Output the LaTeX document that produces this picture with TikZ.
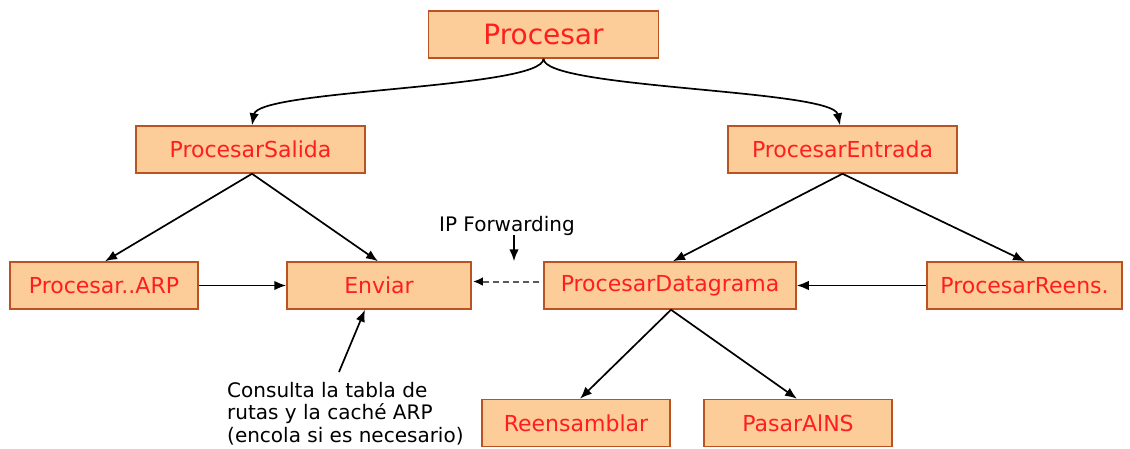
\documentclass[tikz,border=0pt]{standalone}
\usepackage{fontspec}
\setmainfont{DejaVu Sans}
\usetikzlibrary{arrows.meta}
\definecolor{boxfill}{RGB}{252,204,153}
\definecolor{boxdraw}{RGB}{186,82,34}
\definecolor{boxtext}{RGB}{255,30,30}
\definecolor{dashgray}{RGB}{90,90,90}
\tikzset{
  proc/.style={draw=boxdraw, fill=boxfill, line width=1.5pt, text=boxtext,
    inner sep=0pt, font=\fontsize{22}{24}\selectfont, minimum height=47pt},
  conn/.style={line width=1.7pt, -{Latex[length=12pt,width=9.5pt]}},
  note/.style={inner sep=0pt, text=black, font=\fontsize{20}{22.5}\selectfont}
}
\begin{document}
\begin{tikzpicture}[x=1pt,y=-1pt]
\useasboundingbox[fill=white] (0,0) rectangle (1130,448);
\node[proc, minimum width=230pt, minimum height=47pt, font=\fontsize{28}{30}\selectfont] (P) at (543.5,34.5) {Procesar};
\node[proc, minimum width=229pt] (PS) at (250.5,149.5) {ProcesarSalida};
\node[proc, minimum width=229pt] (PE) at (842.5,149.5) {ProcesarEntrada};
\node[proc, minimum width=188pt] (ARP) at (104,285.5) {Procesar..ARP};
\node[proc, minimum width=184pt] (EN) at (379,285.5) {Enviar};
\node[proc, minimum width=252pt] (PD) at (670,285.5) {ProcesarDatagrama};
\node[proc, minimum width=195pt] (PR) at (1024.5,285.5) {ProcesarReens.};
\node[proc, minimum width=188pt] (RE) at (576,423) {Reensamblar};
\node[proc, minimum width=188pt] (PA) at (798,423) {PasarAlNS};

\node[note] (ipf) at (507,226) {IP Forwarding};
\node[note, align=left, anchor=north west] (cons) at (227,382) {Consulta la tabla de\\rutas y la caché ARP\\(encola si es necesario)};

% curved connectors from Procesar
\draw[conn] (P.south) .. controls ([yshift=-30pt]P.south) and ([xshift=8pt,yshift=36pt]PS.north) .. ([xshift=1.5pt]PS.north);
\draw[conn] (P.south) .. controls ([yshift=-30pt]P.south) and ([xshift=-10pt,yshift=36pt]PE.north) .. ([xshift=-2.5pt]PE.north);

% straight connectors
\draw[conn] ([xshift=1.5pt]PS.south) -- ([xshift=1pt]ARP.north);
\draw[conn] ([xshift=1.5pt]PS.south) -- ([xshift=-1pt]EN.north);
\draw[conn] (PE.south) -- ([xshift=3pt]PD.north);
\draw[conn] (PE.south) -- ([xshift=0.5pt]PR.north);
\draw[conn] ([xshift=1pt]PD.south) -- ([xshift=4pt]RE.north);
\draw[conn] ([xshift=1pt]PD.south) -- ([xshift=-1pt]PA.north);
\draw[conn] (ARP.east) -- (EN.west);
\draw[conn] (PR.west) -- (PD.west -| PD.east);
\draw[dashgray, line width=2pt, dash pattern=on 6pt off 4pt, -{Latex[length=10pt,width=8.5pt,black]}] ([xshift=-4pt,yshift=4pt]PD.west) -- ([xshift=1pt,yshift=4pt]EN.east);

\coordinate (ipfa) at (514,235);
\draw[conn] (ipfa) -- (ipfa |- PD.north);
\coordinate (consa) at (339,372);
\draw[conn] (consa) -- ([xshift=-14pt]EN.south);
\end{tikzpicture}
\end{document}
